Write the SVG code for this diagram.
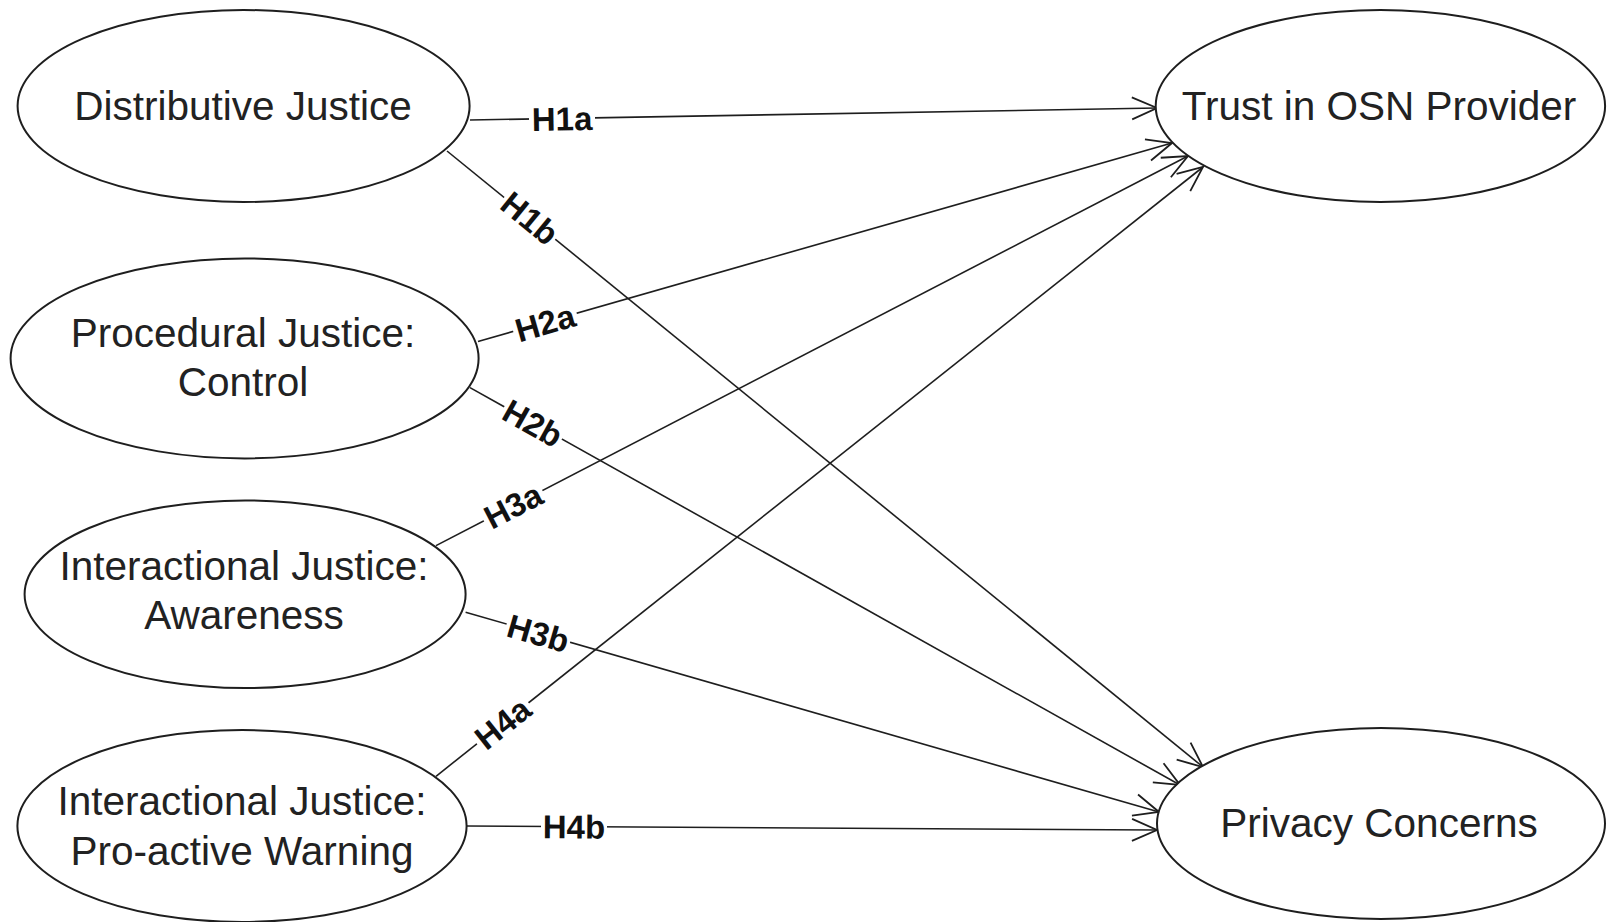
<svg xmlns="http://www.w3.org/2000/svg" width="1608" height="922" viewBox="0 0 1608 922">
<defs>
<style>
.node ellipse{fill:#fff;stroke:#1e1e1e;stroke-width:2}
.node text{font-family:"Liberation Sans",Arial,sans-serif;font-size:40.5px;fill:#222;text-anchor:middle}
.edge line{stroke:#1e1e1e;stroke-width:1.6;fill:none}
.lbl rect{fill:#fff;stroke:none}
.lbl text{font-family:"Liberation Sans",Arial,sans-serif;font-size:33px;font-weight:bold;fill:#111;text-anchor:middle}
</style>
<marker id="arr" viewBox="-30 -15 32 30" refX="0" refY="0" markerWidth="32" markerHeight="30" markerUnits="userSpaceOnUse" orient="auto" overflow="visible">
<path d="M-25,-11 L0,0 L-25,11" fill="none" stroke="#1e1e1e" stroke-width="1.8"/>
</marker>
</defs>
<rect width="1608" height="922" fill="#fff"/>
<g id="connectors">
<g class="edge" id="e-h1a"><line x1="470" y1="120" x2="1157" y2="108" marker-end="url(#arr)"/></g>
<g class="edge" id="e-h1b"><line x1="447" y1="151" x2="1203" y2="767" marker-end="url(#arr)"/></g>
<g class="edge" id="e-h2a"><line x1="478" y1="341.5" x2="1172" y2="143" marker-end="url(#arr)"/></g>
<g class="edge" id="e-h2b"><line x1="470" y1="387.6" x2="1180" y2="785" marker-end="url(#arr)"/></g>
<g class="edge" id="e-h3a"><line x1="436" y1="545.6" x2="1188" y2="156" marker-end="url(#arr)"/></g>
<g class="edge" id="e-h3b"><line x1="465.6" y1="612.2" x2="1159" y2="812" marker-end="url(#arr)"/></g>
<g class="edge" id="e-h4a"><line x1="436" y1="776.3" x2="1203" y2="167" marker-end="url(#arr)"/></g>
<g class="edge" id="e-h4b"><line x1="466.6" y1="826" x2="1157" y2="830" marker-end="url(#arr)"/></g>
<g class="lbl" transform="translate(562,118.4) rotate(-1)"><rect x="-33" y="-14" width="66" height="28"/><text y="12">H1a</text></g>
<g class="lbl" transform="translate(530,218) rotate(39.2)"><rect x="-33" y="-14" width="66" height="28"/><text y="12">H1b</text></g>
<g class="lbl" transform="translate(545,322.5) rotate(-16)"><rect x="-33" y="-14" width="66" height="28"/><text y="12">H2a</text></g>
<g class="lbl" transform="translate(533,423) rotate(29.2)"><rect x="-33" y="-14" width="66" height="28"/><text y="12">H2b</text></g>
<g class="lbl" transform="translate(513,505.5) rotate(-27.4)"><rect x="-33" y="-14" width="66" height="28"/><text y="12">H3a</text></g>
<g class="lbl" transform="translate(538.4,633) rotate(16.1)"><rect x="-33" y="-14" width="66" height="28"/><text y="12">H3b</text></g>
<g class="lbl" transform="translate(502.5,723) rotate(-38.5)"><rect x="-33" y="-14" width="66" height="28"/><text y="12">H4a</text></g>
<g class="lbl" transform="translate(574,826.5) rotate(0.3)"><rect x="-33" y="-14" width="66" height="28"/><text y="12">H4b</text></g>
</g>
<g class="node" id="n-distributive"><ellipse cx="243.6" cy="106" rx="226" ry="96"/><text x="243" y="120">Distributive Justice</text></g>
<g class="node" id="n-procedural"><ellipse cx="244.6" cy="358.4" rx="234" ry="100"/><text x="243" y="346.6">Procedural Justice:</text><text x="243" y="395.8">Control</text></g>
<g class="node" id="n-awareness"><ellipse cx="245.1" cy="594.3" rx="220.5" ry="93.8"/><text x="244" y="580.4">Interactional Justice:</text><text x="244" y="628.6">Awareness</text></g>
<g class="node" id="n-warning"><ellipse cx="242" cy="826" rx="224.6" ry="96"/><text x="242" y="815">Interactional Justice:</text><text x="242" y="864.5">Pro-active Warning</text></g>
<g class="node" id="n-trust"><ellipse cx="1380.4" cy="106" rx="224.7" ry="96"/><text x="1379" y="120">Trust in OSN Provider</text></g>
<g class="node" id="n-privacy"><ellipse cx="1381" cy="823.5" rx="224" ry="95.5"/><text x="1379" y="837">Privacy Concerns</text></g>
</svg>
